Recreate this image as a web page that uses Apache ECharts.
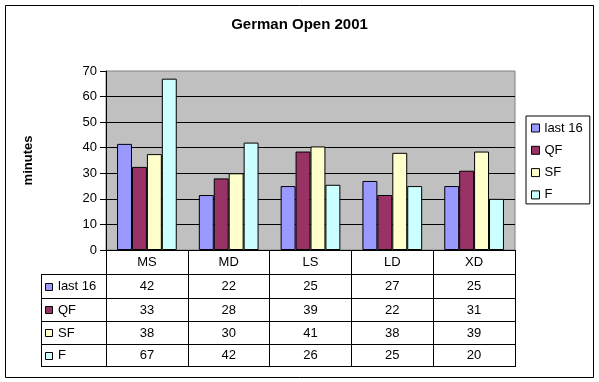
<!DOCTYPE html>
<html>
<head>
<meta charset="utf-8">
<script src="https://cdn.jsdelivr.net/npm/echarts@6/dist/echarts.min.js"></script>
<style>
html,body{margin:0;padding:0;background:#fff;}
#c{width:599px;height:382px;}
</style>
</head>
<body>
<div id="c"></div>
<script>
// ---- data ----
const title = 'German Open 2001';
const yName = 'minutes';
const categories = ['MS', 'MD', 'LS', 'LD', 'XD'];
const seriesNames = ['last 16', 'QF', 'SF', 'F'];
const last16 = [41.5, 21.5, 25, 27, 25];
const qf = [32.5, 28, 38.5, 21.5, 31];
const sf = [37.5, 30, 40.5, 38, 38.5];
const fin = [67, 42, 25.5, 25, 20];
// values as printed in the data table
const tableLast16 = [42, 22, 25, 27, 25];
const tableQF = [33, 28, 39, 22, 31];
const tableSF = [38, 30, 41, 38, 39];
const tableF = [67, 42, 26, 25, 20];
const yMin = 0, yMax = 70, yStep = 10;

const colors = ['#9999FF', '#993366', '#FFFFCC', '#CCFFFF'];
const FONT = '"Liberation Sans", Arial, sans-serif';
const seriesData = [last16, qf, sf, fin];
const tableData = [tableLast16, tableQF, tableSF, tableF];

const chart = echarts.init(document.getElementById('c'), null, {renderer: 'canvas'});

const G = {left: 106, top: 71, right: 515, bottom: 250};

chart.setOption({
  animation: false,
  backgroundColor: '#ffffff',
  textStyle: {fontFamily: FONT},
  title: {
    text: title, left: 'center', top: 17, padding: 0,
    textStyle: {fontFamily: FONT, fontSize: 15, fontWeight: 'bold', color: '#000'}
  },
  legend: {
    orient: 'vertical', left: 526, top: 116,
    padding: [5, 7, 2, 5],
    itemWidth: 8, itemHeight: 8, itemGap: 8.3,
    borderColor: '#000', borderWidth: 1,
    icon: 'rect',
    itemStyle: {borderColor: '#000', borderWidth: 1},
    textStyle: {fontFamily: FONT, fontSize: 13, color: '#000', lineHeight: 14},
    data: seriesNames
  },
  grid: {
    left: G.left, top: G.top, width: G.right - G.left, height: G.bottom - G.top,
    show: true, backgroundColor: '#C0C0C0', borderColor: '#808080', borderWidth: 1
  },
  xAxis: {
    type: 'category', data: categories, boundaryGap: true,
    axisLine: {show: true, lineStyle: {color: '#000', width: 1}},
    axisTick: {show: true, inside: false, length: 116, interval: 0, alignWithLabel: false,
               lineStyle: {color: '#000', width: 1}},
    axisLabel: {margin: 12, verticalAlign: 'middle', fontFamily: FONT, fontSize: 13, color: '#000', interval: 0},
    splitLine: {show: false}
  },
  yAxis: {
    type: 'value', min: yMin, max: yMax, interval: yStep,
    name: yName, nameLocation: 'middle', nameRotate: 90, nameGap: 71,
    nameTextStyle: {fontFamily: FONT, fontSize: 13, fontWeight: 'bold', color: '#000'},
    axisLine: {show: true, lineStyle: {color: '#000', width: 1}},
    axisTick: {show: true, inside: false, length: 6, lineStyle: {color: '#000', width: 1}},
    axisLabel: {margin: 9, fontFamily: FONT, fontSize: 13, color: '#000'},
    splitLine: {show: true, showMaxLine: false, lineStyle: {color: '#000', width: 1}}
  },
  series: seriesNames.map((n, i) => ({
    name: n, type: 'bar', data: seriesData[i],
    barGap: 0, barCategoryGap: '27%',
    itemStyle: {color: colors[i], borderColor: '#000', borderWidth: 1}
  }))
});

// ---- data table & frame ----
const rowLines = [274, 298, 321, 344, 366];
const tableLeft = 41;
const gfx = [];
gfx.push({type: 'rect', shape: {x: 5.5, y: 5.5, width: 588, height: 372},
  style: {fill: null, stroke: '#000', lineWidth: 1}, silent: true, z: 100});
rowLines.forEach(y => {
  gfx.push({type: 'line', shape: {x1: tableLeft, y1: y + 0.5, x2: G.right + 1, y2: y + 0.5},
    style: {stroke: '#000', lineWidth: 1}, z: 100});
});
gfx.push({type: 'line', shape: {x1: tableLeft + 0.5, y1: rowLines[0], x2: tableLeft + 0.5, y2: rowLines[rowLines.length - 1] + 1},
  style: {stroke: '#000', lineWidth: 1}, z: 100});
seriesNames.forEach((n, r) => {
  const yc = (rowLines[r] + rowLines[r + 1]) / 2 + 0.5;
  gfx.push({type: 'rect', shape: {x: 45.5, y: Math.round(yc - 4) + 0.5, width: 7, height: 7},
    style: {fill: colors[r], stroke: '#000', lineWidth: 1}, z: 100});
  gfx.push({type: 'text', x: 58, y: yc,
    style: {text: n, font: '13px ' + FONT, fill: '#000', textAlign: 'left', textVerticalAlign: 'middle'}, z: 100});
  categories.forEach((c, k) => {
    const xc = chart.convertToPixel({xAxisIndex: 0}, k);
    gfx.push({type: 'text', x: xc, y: yc,
      style: {text: String(tableData[r][k]), font: '13px ' + FONT, fill: '#000', textAlign: 'center', textVerticalAlign: 'middle'}, z: 100});
  });
});
chart.setOption({graphic: gfx});
</script>
</body>
</html>
